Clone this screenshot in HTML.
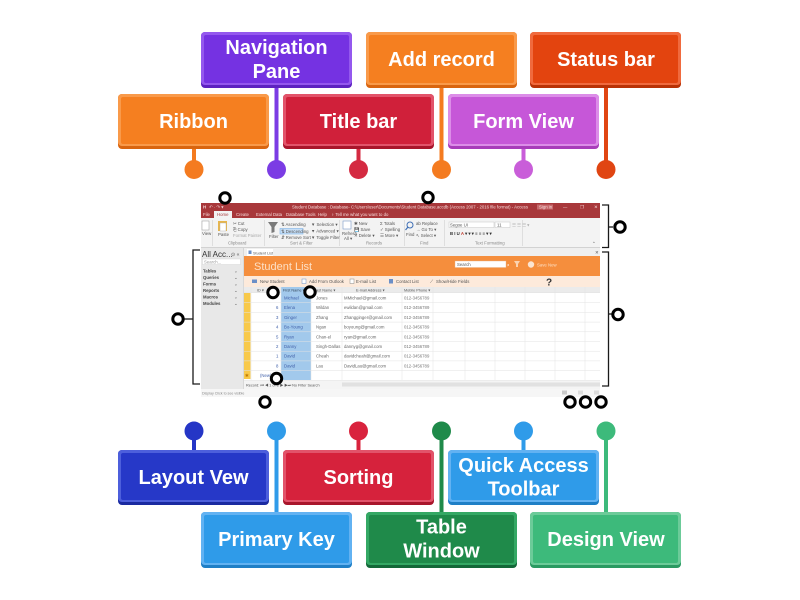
<!DOCTYPE html>
<html><head><meta charset="utf-8"><style>
html,body{margin:0;padding:0;background:#fff;width:800px;height:600px;overflow:hidden;}
svg{display:block;}
text{font-family:"Liberation Sans",sans-serif;}
.lbl{font-size:20px;font-weight:bold;fill:#fff;text-anchor:middle;}
.t{font-size:4.3px;fill:#555;}
.tw{font-size:4.3px;fill:#f6dada;}
</style></head><body>
<svg width="800" height="600" viewBox="0 0 800 600" xmlns="http://www.w3.org/2000/svg">

<!-- ================= SCREENSHOT ================= -->
<!-- title bar -->
<rect x="201" y="203" width="399" height="15" fill="#a8383b"/>
<text x="203" y="208.5" class="tw" style="font-weight:bold">H</text>
<text x="209" y="208.5" class="tw">↶ · ↷ ▾</text>
<text x="292" y="208.5" class="tw">Student Database : Database- C:\Users\user\Documents\Student Database.accdb (Access 2007 - 2016 file format) - Access</text>
<rect x="537" y="204.5" width="16" height="5" fill="#c66a6c"/>
<text x="539" y="208.5" class="tw">Sign in</text>
<text x="563" y="208.5" class="tw">—</text>
<text x="580" y="208.5" class="tw">❐</text>
<text x="594" y="208.5" class="tw">✕</text>
<!-- tabs row -->
<rect x="214" y="211" width="18" height="7" fill="#f3f3f3"/>
<text x="203" y="216" class="tw">File</text>
<text x="217" y="216" class="t" style="fill:#a8383b">Home</text>
<text x="236" y="216" class="tw">Create</text>
<text x="256" y="216" class="tw">External Data</text>
<text x="286" y="216" class="tw">Database Tools</text>
<text x="318" y="216" class="tw">Help</text>
<text x="331" y="216" class="tw">♀ Tell me what you want to do</text>

<!-- ribbon -->
<rect x="201" y="218" width="399" height="30" fill="#f3f3f3"/>
<line x1="201" y1="247.5" x2="600" y2="247.5" stroke="#d2d2d2"/>
<g stroke="#d8d8d8" stroke-width="0.8">
<line x1="212.5" y1="220" x2="212.5" y2="246"/>
<line x1="264.5" y1="220" x2="264.5" y2="246"/>
<line x1="339.5" y1="220" x2="339.5" y2="246"/>
<line x1="404.5" y1="220" x2="404.5" y2="246"/>
<line x1="444.5" y1="220" x2="444.5" y2="246"/>
<line x1="522.5" y1="220" x2="522.5" y2="246"/>
</g>
<!-- view -->
<rect x="202" y="221" width="7" height="9" fill="#fff" stroke="#9a9a9a" stroke-width="0.5"/>
<text x="202" y="235" class="t">View</text>
<!-- clipboard -->
<rect x="218" y="221" width="9" height="10" fill="#e8b64c"/>
<rect x="220" y="223" width="6" height="8" fill="#fff" stroke="#aaa" stroke-width="0.4"/>
<text x="218" y="236" class="t">Paste</text>
<text x="233" y="225" class="t">✂ Cut</text>
<text x="233" y="231" class="t">⎘ Copy</text>
<text x="233" y="237" class="t" style="fill:#aaa">Format Painter</text>
<text x="228" y="244.5" class="t" style="fill:#888">Clipboard</text>
<!-- filter -->
<path d="M268,222 L278,222 L274.5,227 L274.5,232 L271.5,233 L271.5,227 Z" fill="#7a7a7a"/>
<text x="269" y="238" class="t">Filter</text>
<text x="281" y="226" class="t">⇅ Ascending</text>
<rect x="280" y="228.5" width="23" height="5.5" fill="#c6def6" stroke="#7fb2e6" stroke-width="0.6"/>
<text x="281" y="232.8" class="t">⇅ Descending</text>
<text x="281" y="239" class="t">⇵ Remove Sort</text>
<text x="311" y="226" class="t">▼ Selection ▾</text>
<text x="311" y="232.5" class="t">▼ Advanced ▾</text>
<text x="311" y="239" class="t">▼ Toggle Filter</text>
<text x="290" y="244.5" class="t" style="fill:#888">Sort &amp; Filter</text>
<!-- records -->
<rect x="343" y="221" width="8" height="8" fill="#fff" stroke="#7a9ac8" stroke-width="0.6"/>
<text x="342" y="235" class="t">Refresh</text>
<text x="344" y="240" class="t">All ▾</text>
<text x="354" y="225" class="t">✱ New</text>
<text x="354" y="231" class="t">💾 Save</text>
<text x="354" y="237" class="t">✕ Delete ▾</text>
<text x="380" y="225" class="t">Σ Totals</text>
<text x="380" y="231" class="t">✓ Spelling</text>
<text x="380" y="237" class="t">☰ More ▾</text>
<text x="366" y="244.5" class="t" style="fill:#888">Records</text>
<!-- find -->
<circle cx="410" cy="225" r="3" fill="none" stroke="#3f6fb5" stroke-width="1"/>
<line x1="408" y1="227" x2="405.5" y2="230" stroke="#3f6fb5" stroke-width="1.2"/>
<text x="406" y="236" class="t">Find</text>
<text x="416" y="225" class="t">ab Replace</text>
<text x="416" y="231" class="t">→ Go To ▾</text>
<text x="416" y="237" class="t">↖ Select ▾</text>
<text x="420" y="244.5" class="t" style="fill:#888">Find</text>
<!-- text formatting -->
<rect x="449" y="222" width="45" height="5.5" fill="#fff" stroke="#c6c6c6" stroke-width="0.5"/>
<text x="450" y="226.3" class="t">Segoe UI</text>
<rect x="495" y="222" width="15" height="5.5" fill="#fff" stroke="#c6c6c6" stroke-width="0.5"/>
<text x="497" y="226.3" class="t">11</text>
<text x="450" y="235" class="t" style="font-weight:bold;fill:#333">B  I  U  <tspan fill="#c0392b">A</tspan> ▾ ▾  ▾  ≡ ≡ ≡  ▾  ▾</text>
<text x="512" y="226.3" class="t" style="fill:#aaa">☰ ☰ ☰ ▾</text>
<text x="475" y="244.5" class="t" style="fill:#888">Text Formatting</text>
<text x="592" y="245" class="t">⌃</text>

<!-- under ribbon strip -->
<rect x="201" y="248" width="399" height="2" fill="#e8e8e8"/>
<!-- nav pane -->
<rect x="201" y="248" width="42" height="141" fill="#e8e8e8"/>
<line x1="243.5" y1="248" x2="243.5" y2="389" stroke="#cfcfcf" stroke-width="0.8"/>
<text x="202" y="257" style="font-size:8px;fill:#333">All Acc...</text>
<text x="231" y="256" class="t" style="font-size:5px">⊙ «</text>
<rect x="202.5" y="259" width="38" height="5.5" fill="#fff" stroke="#d0d0d0" stroke-width="0.4"/>
<text x="204" y="263.3" class="t" style="fill:#999">Search...</text>
<g class="t" style="font-weight:bold;fill:#444">
<text x="203" y="272.5" class="t" style="font-weight:bold;fill:#444">Tables</text>
<text x="203" y="279" class="t" style="font-weight:bold;fill:#444">Queries</text>
<text x="203" y="285.5" class="t" style="font-weight:bold;fill:#444">Forms</text>
<text x="203" y="292" class="t" style="font-weight:bold;fill:#444">Reports</text>
<text x="203" y="298.5" class="t" style="font-weight:bold;fill:#444">Macros</text>
<text x="203" y="305" class="t" style="font-weight:bold;fill:#444">Modules</text>
</g>
<g class="t">
<text x="234" y="272.5" class="t">⌄</text>
<text x="234" y="279" class="t">⌄</text>
<text x="234" y="285.5" class="t">⌄</text>
<text x="234" y="292" class="t">⌄</text>
<text x="234" y="298.5" class="t">⌄</text>
<text x="234" y="305" class="t">⌄</text>
</g>

<!-- doc tab bar -->
<rect x="244" y="248" width="356" height="8" fill="#efefef"/>
<rect x="247" y="249" width="26" height="7" fill="#fff"/>
<rect x="248.5" y="250.5" width="3" height="3.5" fill="#6b8fc7"/>
<text x="253" y="254.5" class="t" style="font-size:3.8px">Student List</text>
<text x="595" y="254" class="t">✕</text>

<!-- orange header -->
<rect x="244" y="256" width="356" height="20" fill="#f58e3d"/>
<text x="254" y="270" style="font-size:11px;fill:#fde0c6">Student List</text>
<rect x="455" y="261" width="51" height="6.5" fill="#fff" stroke="#e6b48c" stroke-width="0.4"/>
<text x="457" y="266" class="t">Search</text>
<text x="507" y="266.5" class="t" style="fill:#fff">⌕</text>
<path d="M514,261 L520,261 L518,264 L518,267 L516,267 L516,264 Z" fill="#fbd3b0"/>
<circle cx="531" cy="264.5" r="3.2" fill="#fbe4d1"/>
<text x="537" y="266.5" class="t" style="fill:#fde0c6">Save New</text>

<!-- toolbar row -->
<rect x="244" y="276" width="356" height="11" fill="#fdeadb"/>
<rect x="252" y="279.5" width="5" height="3.5" fill="#6b8fc7"/>
<text x="260" y="283" class="t">New Student</text>
<rect x="302" y="279" width="4" height="4.5" fill="#fff" stroke="#6b8fc7" stroke-width="0.5"/>
<text x="309" y="283" class="t">Add From Outlook</text>
<rect x="350" y="279" width="4" height="4.5" fill="#fff" stroke="#888" stroke-width="0.5"/>
<text x="356" y="283" class="t">E-mail List</text>
<rect x="389" y="279" width="4" height="4.5" fill="#6b8fc7"/>
<text x="396" y="283" class="t">Contact List</text>
<text x="430" y="283" class="t">⟋</text>
<text x="436" y="283" class="t">Show/Hide Fields</text>
<text x="546" y="285.5" style="font-size:10px;fill:#333;font-weight:bold">?</text>

<!-- column header -->
<rect x="244" y="287" width="356" height="6" fill="#ebebeb"/>
<line x1="244" y1="293" x2="600" y2="293" stroke="#d6d6d6" stroke-width="0.5"/>
<text x="257" y="291.5" class="t" style="font-size:3.8px">ID ▾</text>
<text x="314" y="291.5" class="t" style="font-size:3.8px">Last Name ▾</text>
<text x="356" y="291.5" class="t" style="font-size:3.8px">E-mail Address ▾</text>
<text x="404" y="291.5" class="t" style="font-size:3.8px">Mobile Phone ▾</text>

<!-- data area -->
<rect x="244" y="293" width="356" height="87" fill="#fff"/>
<rect x="244" y="293" width="6.5" height="86" fill="#f8c94a"/>
<rect x="281" y="287" width="30" height="93" fill="#a2c9ec"/>
<text x="283" y="291.5" class="t" style="font-size:3.8px;fill:#345">First Name ▾</text>
<g stroke="#e3e3e3" stroke-width="0.5">
<line x1="244" y1="302.7" x2="600" y2="302.7"/>
<line x1="244" y1="312.4" x2="600" y2="312.4"/>
<line x1="244" y1="322.1" x2="600" y2="322.1"/>
<line x1="244" y1="331.8" x2="600" y2="331.8"/>
<line x1="244" y1="341.5" x2="600" y2="341.5"/>
<line x1="244" y1="351.2" x2="600" y2="351.2"/>
<line x1="244" y1="360.9" x2="600" y2="360.9"/>
<line x1="244" y1="370.6" x2="600" y2="370.6"/>
<line x1="244" y1="380.3" x2="600" y2="380.3"/>
<line x1="251" y1="287" x2="251" y2="380"/>
<line x1="281" y1="287" x2="281" y2="380"/>
<line x1="311" y1="287" x2="311" y2="380"/>
<line x1="342" y1="287" x2="342" y2="380"/>
<line x1="402" y1="287" x2="402" y2="380"/>
<line x1="433" y1="287" x2="433" y2="380"/>
<line x1="465" y1="287" x2="465" y2="380"/>
<line x1="495" y1="287" x2="495" y2="380"/>
<line x1="525" y1="287" x2="525" y2="380"/>
<line x1="555" y1="287" x2="555" y2="380"/>
<line x1="585" y1="287" x2="585" y2="380"/>
</g>
<g style="font-size:4.3px">
<text x="284" y="299.5" style="fill:#3f5fa8">Michael</text>
<text x="316" y="299.5" style="fill:#666">Jones</text>
<text x="344" y="299.5" style="fill:#666">MMichael@gmail.com</text>
<text x="404" y="299.5" style="fill:#777">012-3456789</text>

<text x="276" y="309.2" style="fill:#3f5fa8">6</text>
<text x="284" y="309.2" style="fill:#3f5fa8">Elena</text>
<text x="316" y="309.2" style="fill:#666">Wildan</text>
<text x="344" y="309.2" style="fill:#666">ewildan@gmail.com</text>
<text x="404" y="309.2" style="fill:#777">012-3456789</text>

<text x="276" y="318.9" style="fill:#3f5fa8">3</text>
<text x="284" y="318.9" style="fill:#3f5fa8">Ginger</text>
<text x="316" y="318.9" style="fill:#666">Zhang</text>
<text x="344" y="318.9" style="fill:#666">Zhangginger@gmail.com</text>
<text x="404" y="318.9" style="fill:#777">012-3456789</text>

<text x="276" y="328.6" style="fill:#3f5fa8">4</text>
<text x="284" y="328.6" style="fill:#3f5fa8">Bo-Young</text>
<text x="316" y="328.6" style="fill:#666">Ngan</text>
<text x="344" y="328.6" style="fill:#666">boyoung@gmail.com</text>
<text x="404" y="328.6" style="fill:#777">012-3456789</text>

<text x="276" y="338.3" style="fill:#3f5fa8">5</text>
<text x="284" y="338.3" style="fill:#3f5fa8">Ryan</text>
<text x="316" y="338.3" style="fill:#666">Chan-el</text>
<text x="344" y="338.3" style="fill:#666">ryan@gmail.com</text>
<text x="404" y="338.3" style="fill:#777">012-3456789</text>

<text x="276" y="348" style="fill:#3f5fa8">2</text>
<text x="284" y="348" style="fill:#3f5fa8">Danny</text>
<text x="316" y="348" style="fill:#666">Singh-Dallas</text>
<text x="344" y="348" style="fill:#666">dannyg@gmail.com</text>
<text x="404" y="348" style="fill:#777">012-3456789</text>

<text x="276" y="357.7" style="fill:#3f5fa8">1</text>
<text x="284" y="357.7" style="fill:#3f5fa8">David</text>
<text x="316" y="357.7" style="fill:#666">Cheah</text>
<text x="344" y="357.7" style="fill:#666">davidcheah@gmail.com</text>
<text x="404" y="357.7" style="fill:#777">012-3456789</text>

<text x="276" y="367.4" style="fill:#3f5fa8">8</text>
<text x="284" y="367.4" style="fill:#3f5fa8">David</text>
<text x="316" y="367.4" style="fill:#666">Lau</text>
<text x="344" y="367.4" style="fill:#666">DavidLau@gmail.com</text>
<text x="404" y="367.4" style="fill:#777">012-3456789</text>

<text x="245" y="377" style="fill:#c27a00">✱</text>
<text x="260" y="377" style="fill:#3f5fa8">(New)</text>
</g>

<!-- record nav & scrollbar -->
<rect x="244" y="380.5" width="356" height="8.5" fill="#f4f4f4"/>
<text x="246" y="386.5" class="t" style="font-size:3.8px">Record: ⏮ ◀ 1 of 8 ▶ ▶⏭  No Filter  Search</text>
<rect x="342" y="382.5" width="258" height="4" fill="#e1e1e1"/>
<!-- app status bar -->
<rect x="201" y="389" width="399" height="8" fill="#f6f6f6"/>
<text x="202" y="394.5" class="t" style="font-size:3.6px;fill:#888">Display Click to see visible</text>
<rect x="562" y="390.5" width="5" height="4" fill="#c9c9c9"/>
<rect x="578" y="390.5" width="5" height="4" fill="#dcdcdc"/>
<rect x="594" y="390.5" width="5" height="4" fill="#dcdcdc"/>

<!-- brackets -->
<g fill="none" stroke="#1a1a1a" stroke-width="1.3">
<path d="M200,250 L193,250 L193,384 L200,384"/>
<line x1="193" y1="319" x2="184" y2="319"/>
<path d="M602,205 L608.5,205 L608.5,247.5 L602,247.5"/>
<line x1="608.5" y1="227" x2="613" y2="227"/>
<path d="M602,252 L608.5,252 L608.5,386 L602,386"/>
<line x1="608.5" y1="314" x2="612" y2="314"/>
</g>

<!-- hotspot circles -->
<g fill="#fff" stroke="#000" stroke-width="3">
<circle cx="225" cy="198" r="5.2"/>
<circle cx="428" cy="197.5" r="5.2"/>
<circle cx="620" cy="227" r="5.2"/>
<circle cx="178" cy="319" r="5.2"/>
<circle cx="618" cy="314.5" r="5.2"/>
<circle cx="273" cy="292.5" r="5.2"/>
<circle cx="310" cy="292" r="5.2"/>
<circle cx="276.5" cy="378.5" r="5.2"/>
<circle cx="265" cy="402" r="5.2"/>
<circle cx="570" cy="402" r="5.2"/>
<circle cx="585.5" cy="402" r="5.2"/>
<circle cx="601" cy="402" r="5.2"/>
</g>

<!-- ================= LABEL CONNECTORS ================= -->
<g>
<!-- top -->
<rect x="192" y="146" width="4" height="20" fill="#f47b20"/><circle cx="194" cy="169.5" r="9.5" fill="#f47b20"/>
<rect x="274.5" y="86" width="4" height="80" fill="#7b3ce4"/><circle cx="276.5" cy="169.5" r="9.5" fill="#7b3ce4"/>
<rect x="356.5" y="146" width="4" height="20" fill="#d42a41"/><circle cx="358.5" cy="169.5" r="9.5" fill="#d42a41"/>
<rect x="439.5" y="86" width="4" height="80" fill="#f47b20"/><circle cx="441.5" cy="169.5" r="9.5" fill="#f47b20"/>
<rect x="521.5" y="146" width="4" height="20" fill="#c95ed9"/><circle cx="523.5" cy="169.5" r="9.5" fill="#c95ed9"/>
<rect x="604" y="86" width="4" height="80" fill="#e04512"/><circle cx="606" cy="169.5" r="9.5" fill="#e04512"/>
<!-- bottom -->
<rect x="192" y="433" width="4" height="19" fill="#2536c6"/><circle cx="194" cy="431" r="9.5" fill="#2536c6"/>
<rect x="274.5" y="433" width="4" height="81" fill="#2f9be9"/><circle cx="276.5" cy="431" r="9.5" fill="#2f9be9"/>
<rect x="356.5" y="433" width="4" height="19" fill="#d9233d"/><circle cx="358.5" cy="431" r="9.5" fill="#d9233d"/>
<rect x="439.5" y="433" width="4" height="81" fill="#1f8a4a"/><circle cx="441.5" cy="431" r="9.5" fill="#1f8a4a"/>
<rect x="521.5" y="433" width="4" height="19" fill="#2f9be9"/><circle cx="523.5" cy="431" r="9.5" fill="#2f9be9"/>
<rect x="604" y="433" width="4" height="81" fill="#3dba7b"/><circle cx="606" cy="431" r="9.5" fill="#3dba7b"/>
</g>

<!-- ================= LABEL BOXES ================= -->
<!-- Navigation Pane -->
<g>
<rect x="201" y="32" width="151" height="56" rx="4" fill="#5d22c0"/>
<rect x="201" y="32" width="151" height="53" rx="4" fill="#9458ee"/>
<rect x="204" y="35" width="145" height="48" rx="2" fill="#7532e2"/>
<text x="276.5" y="54" class="lbl">Navigation</text>
<text x="276.5" y="78" class="lbl">Pane</text>
</g>
<!-- Add record -->
<g>
<rect x="366" y="32" width="151" height="56" rx="4" fill="#d9650f"/>
<rect x="366" y="32" width="151" height="53" rx="4" fill="#f99a4a"/>
<rect x="369" y="35" width="145" height="48" rx="2" fill="#f57f20"/>
<text x="441.5" y="66" class="lbl">Add record</text>
</g>
<!-- Status bar -->
<g>
<rect x="530" y="32" width="151" height="56" rx="4" fill="#b83206"/>
<rect x="530" y="32" width="151" height="53" rx="4" fill="#f06a3e"/>
<rect x="533" y="35" width="145" height="48" rx="2" fill="#e3440f"/>
<text x="606" y="66" class="lbl">Status bar</text>
</g>
<!-- Ribbon -->
<g>
<rect x="118" y="94" width="151" height="55" rx="4" fill="#d9650f"/>
<rect x="118" y="94" width="151" height="52" rx="4" fill="#f99a4a"/>
<rect x="121" y="97" width="145" height="47" rx="2" fill="#f57f20"/>
<text x="193.5" y="128" class="lbl">Ribbon</text>
</g>
<!-- Title bar -->
<g>
<rect x="283" y="94" width="151" height="55" rx="4" fill="#a8152b"/>
<rect x="283" y="94" width="151" height="52" rx="4" fill="#e2536a"/>
<rect x="286" y="97" width="145" height="47" rx="2" fill="#d0203a"/>
<text x="358.5" y="128" class="lbl">Title bar</text>
</g>
<!-- Form View -->
<g>
<rect x="448" y="94" width="151" height="55" rx="4" fill="#a83cba"/>
<rect x="448" y="94" width="151" height="52" rx="4" fill="#dc8de8"/>
<rect x="451" y="97" width="145" height="47" rx="2" fill="#c657d8"/>
<text x="523.5" y="128" class="lbl">Form View</text>
</g>

<!-- Layout Vew -->
<g>
<rect x="118" y="450" width="151" height="55" rx="4" fill="#1a2aa0"/>
<rect x="118" y="450" width="151" height="52" rx="4" fill="#4d5fdc"/>
<rect x="121" y="453" width="145" height="47" rx="2" fill="#2638c8"/>
<text x="193.5" y="484" class="lbl">Layout Vew</text>
</g>
<!-- Sorting -->
<g>
<rect x="283" y="450" width="151" height="55" rx="4" fill="#a8152b"/>
<rect x="283" y="450" width="151" height="52" rx="4" fill="#e2536a"/>
<rect x="286" y="453" width="145" height="47" rx="2" fill="#d6223c"/>
<text x="358.5" y="484" class="lbl">Sorting</text>
</g>
<!-- Quick Access Toolbar -->
<g>
<rect x="448" y="450" width="151" height="55" rx="4" fill="#1f7fc6"/>
<rect x="448" y="450" width="151" height="52" rx="4" fill="#62b2f2"/>
<rect x="451" y="453" width="145" height="47" rx="2" fill="#2f9be9"/>
<text x="523.5" y="472" class="lbl">Quick Access</text>
<text x="523.5" y="495.5" class="lbl">Toolbar</text>
</g>
<!-- Primary Key -->
<g>
<rect x="201" y="512" width="151" height="56" rx="4" fill="#1f7fc6"/>
<rect x="201" y="512" width="151" height="53" rx="4" fill="#62b2f2"/>
<rect x="204" y="515" width="145" height="48" rx="2" fill="#2f9be9"/>
<text x="276.5" y="546" class="lbl">Primary Key</text>
</g>
<!-- Table Window -->
<g>
<rect x="366" y="512" width="151" height="56" rx="4" fill="#136838"/>
<rect x="366" y="512" width="151" height="53" rx="4" fill="#34a864"/>
<rect x="369" y="515" width="145" height="48" rx="2" fill="#1f8a4a"/>
<text x="441.5" y="533.5" class="lbl">Table</text>
<text x="441.5" y="557.5" class="lbl">Window</text>
</g>
<!-- Design View -->
<g>
<rect x="530" y="512" width="151" height="56" rx="4" fill="#2a9a62"/>
<rect x="530" y="512" width="151" height="53" rx="4" fill="#6ccb99"/>
<rect x="533" y="515" width="145" height="48" rx="2" fill="#3dba7b"/>
<text x="606" y="546" class="lbl">Design View</text>
</g>

</svg>
</body></html>
